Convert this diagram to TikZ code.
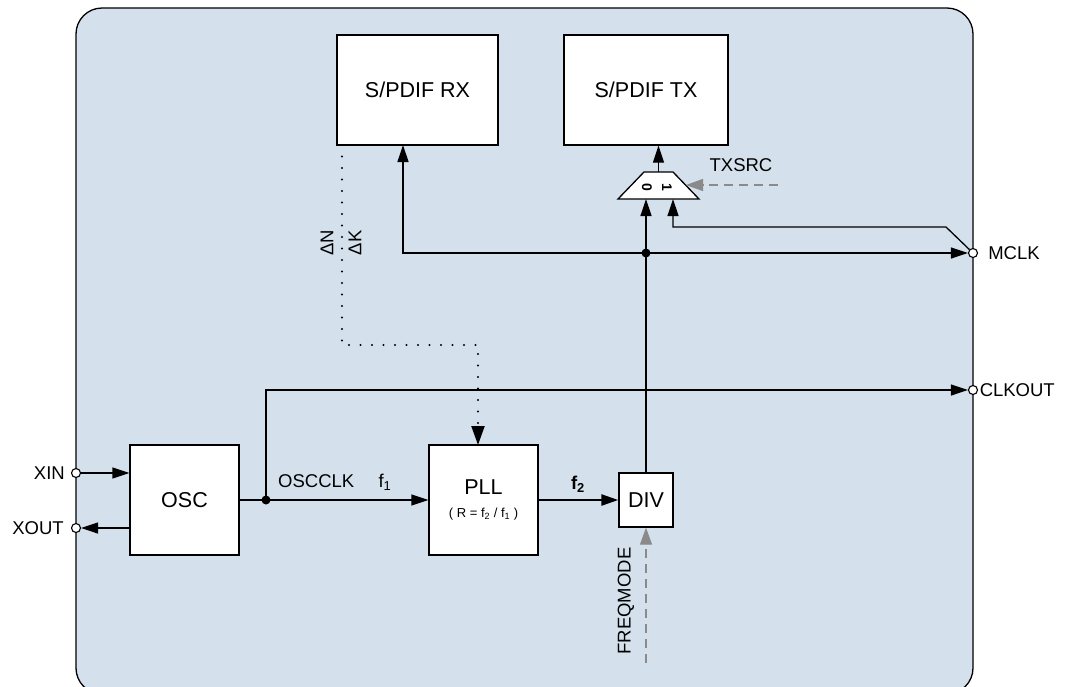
\documentclass[tikz,border=0pt]{standalone}
\usepackage{fontspec}
\setmainfont{Liberation Sans}
\usepackage{xcolor}
\usepackage{tikz}
\usetikzlibrary{positioning, arrows.meta}
\definecolor{chipblue}{HTML}{D4E1EC}
\definecolor{ctrlgray}{HTML}{8A8A8A}

\tikzset{
  block/.style={draw, fill=white, line width=1.3pt, inner sep=0pt, align=center,
                font=\fontsize{21.5}{24}\selectfont},
  sig/.style={line width=1.3pt, -{Triangle[length=17pt,width=11pt]}},
  ctrl/.style={ctrlgray, line width=1.3pt, dash pattern=on 9pt off 6pt,
               -{Triangle[length=17pt,width=12pt]}},
  ratiolink/.style={line width=2.2pt, line cap=round, dash pattern=on 0pt off 11.5pt,
                    -{Triangle[length=19pt,width=13pt]}},
  pin/.style={circle, draw, fill=white, line width=1.1pt, inner sep=0pt, minimum size=9pt},
  lbl/.style={font=\fontsize{18.5}{21}\selectfont, inner sep=0pt},
}

\begin{document}
\begin{tikzpicture}[x=1pt, y=-1pt]
    \clip (0,0) rectangle (1071,686);
    % chip outline
    \draw[fill=chipblue, line width=1.3pt, rounded corners=26pt] (76,8) rectangle (973,694);

    % blocks
    \node[block, minimum width=161pt, minimum height=110pt] (rx) at (417.5,90) {S/PDIF RX};
    \node[block, minimum width=164pt, minimum height=110pt] (tx) at (646,90) {S/PDIF TX};
    \node[block, minimum width=109pt, minimum height=110pt] (osc) at (184.5,500) {OSC};
    \node[block, minimum width=109pt, minimum height=110pt] (pll) at (483.5,500)
      {PLL\\[-1pt]{\fontsize{13}{15}\selectfont( R = f\textsubscript{2} / f\textsubscript{1} )}};
    \node[block, minimum width=54pt, minimum height=54pt] (div) at (646,500) {DIV};

    % tx source mux
    \draw[fill=white, line width=1.3pt] (618,199) -- (644,172) -- (673,172) -- (699,199) -- cycle;
    \coordinate (muxin0) at (646,199);
    \coordinate (muxin1) at (673,199);
    \coordinate (muxout) at (658.5,172);
    \coordinate (muxsel) at (686,185);
    \node[rotate=-90, font=\fontsize{14}{14}\bfseries, inner sep=0pt] (mux0) at (647,187) {0};
    \node[rotate=-90, font=\fontsize{14}{14}\bfseries, inner sep=0pt] (mux1) at (667,187) {1};

    % pins
    \node[pin] (xin) at (76,473) {};
    \node[pin] (xout) at (76,528) {};
    \node[pin] (mclk) at (973,253) {};
    \node[pin] (clkout) at (973,390) {};
    \node[lbl, left=6pt of xin] (xinlbl) {XIN};
    \node[lbl, left=7pt of xout] (xoutlbl) {XOUT};
    \node[lbl, right=10pt of mclk] (mclklbl) {MCLK};
    \node[lbl, right=1.5pt of clkout] (clkoutlbl) {CLKOUT};

    % oscillator
    \draw[sig] (xin) -- (xin -| osc.west);
    \draw[sig] (xout -| osc.west) -- (xout);
    \coordinate (oscj) at (266,500);
    \draw[sig] (osc.east) -- (pll.west);
    \fill (oscj) circle (4.5pt);
    \draw[sig] (oscj) |- (clkout);
    \node[lbl, anchor=west] (oscclk) at (278,481) {OSCCLK};
    \node[lbl] (f1) at (385,482) {f\textsubscript{1}};

    % pll -> div
    \draw[sig, line width=2.4pt] (pll.east) -- (div.west);
    \node[lbl] (f2) at (578,484) {\textbf{f\textsubscript{2}}};

    % mclk bus
    \coordinate (busj) at (646,253);
    \coordinate (rxin) at (403,145);
    \draw[sig] (div.north) -- (muxin0);
    \draw[sig] (busj) -- (mclk);
    \draw[sig] (busj) -| (rxin);
    \fill (busj) circle (4.5pt);
    \draw[sig] (mclk) -- (946,227) -| (muxin1);
    \draw[sig] (muxout) -- (muxout |- tx.south);

    % ratio link rx -> pll
    \coordinate (rxdn) at (342,145);
    \coordinate (pllin) at (478,445);
    \draw[ratiolink] (rxdn) -- ++(0,200) -| (pllin);
    \node[lbl, rotate=90] (dn) at (327,243) {ΔN};
    \node[lbl, rotate=90] (dk) at (355,243) {ΔK};

    % control inputs
    \coordinate (txsrc) at (778,185);
    \draw[ctrl] (txsrc) -- (muxsel);
    \node[lbl] (txsrclbl) at (741,165) {TXSRC};
    \coordinate (fqm) at (646,663);
    \draw[ctrl] (fqm) -- (div.south);
    \node[lbl, rotate=90] (fqmlbl) at (626,601) {FREQMODE};
  \end{tikzpicture}
\end{document}
